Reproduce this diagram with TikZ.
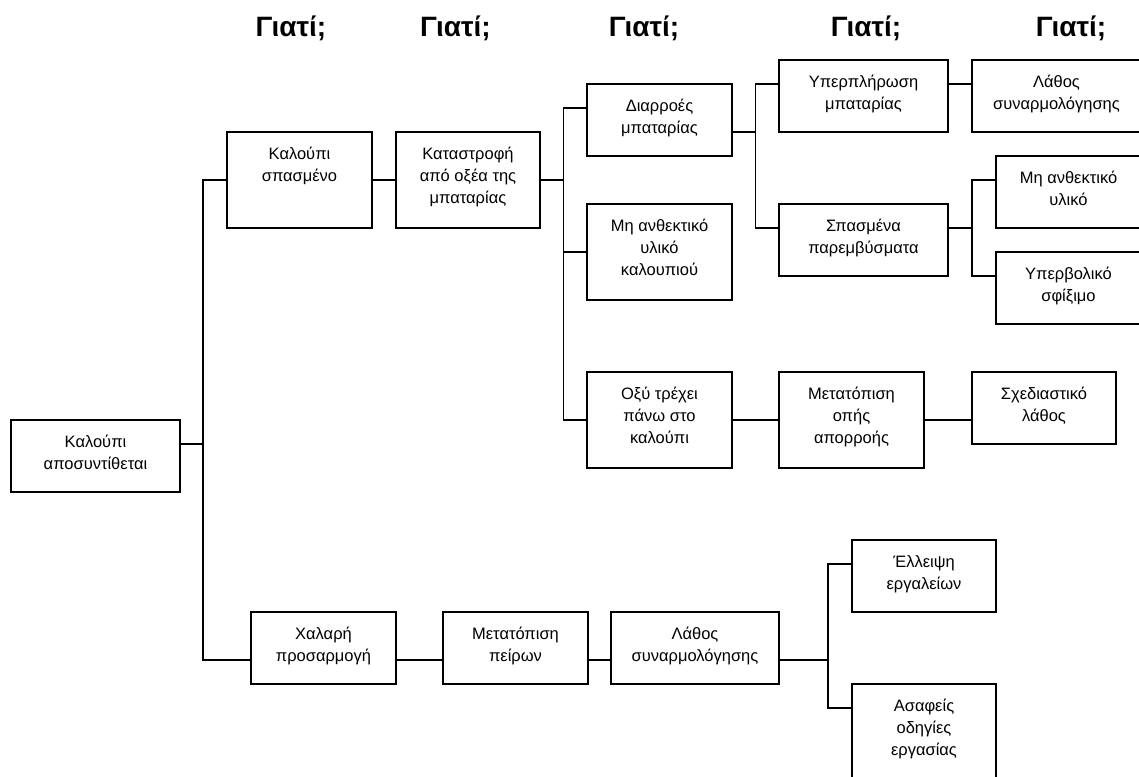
\documentclass[tikz,border=0pt]{standalone}
\usepackage{fontspec}
\setmainfont{Liberation Sans}
\usetikzlibrary{calc}

\tikzset{
  whybox/.style={draw, line width=1.6pt, inner sep=0pt, outer sep=0pt, anchor=north west},
  whyhead/.style={font=\bfseries\fontsize{28}{32}\selectfont, anchor=base, inner sep=0pt},
  link/.style={line width=1.6pt},
}

% box content: width, height, lines (set from the top of the box)
\newcommand{\bt}[3]{\parbox[b][#2][t]{#1}{\centering\rule{0pt}{27pt}#3\par}}
% entry/exit points of a box, #2 pt below its top edge
\newcommand{\ports}[2]{%
  \coordinate (#1-i) at ([yshift=-#2pt]#1.north west);
  \coordinate (#1-o) at ([yshift=-#2pt]#1.north east);}

\begin{document}
\begin{tikzpicture}[x=1pt, y=-1pt, font=\fontsize{16.5}{22.4}\selectfont]
\clip (0,0) rectangle (1139,776);

% column headings
\node[whyhead] (h1) at (291,36.5) {Γιατί;};
\node[whyhead] (h2) at (455.5,36.5) {Γιατί;};
\node[whyhead] (h3) at (644,36.5) {Γιατί;};
\node[whyhead] (h4) at (866,36.5) {Γιατί;};
\node[whyhead] (h5) at (1071,36.5) {Γιατί;};

% boxes
\node[whybox] (root) at (11,420)  {\bt{169pt}{72pt}{Καλούπι\\αποσυντίθεται}};
\node[whybox] (k1)   at (227,132) {\bt{145pt}{96pt}{Καλούπι\\σπασμένο}};
\node[whybox] (k2)   at (396,132) {\bt{144pt}{96pt}{Καταστροφή\\από οξέα της\\μπαταρίας}};
\node[whybox] (d1)   at (587,84)  {\bt{145pt}{72pt}{Διαρροές\\μπαταρίας}};
\node[whybox] (m1)   at (587,204) {\bt{145pt}{96pt}{Μη ανθεκτικό\\υλικό\\καλουπιού}};
\node[whybox] (o1)   at (587,372) {\bt{145pt}{96pt}{Οξύ τρέχει\\πάνω στο\\καλούπι}};
\node[whybox] (y1)   at (779,60)  {\bt{169pt}{72pt}{Υπερπλήρωση\\μπαταρίας}};
\node[whybox] (s1)   at (779,204) {\bt{169pt}{72pt}{Σπασμένα\\παρεμβύσματα}};
\node[whybox] (t1)   at (779,372) {\bt{145pt}{96pt}{Μετατόπιση\\οπής\\απορροής}};
\node[whybox] (l1)   at (972,60)  {\bt{169pt}{72pt}{Λάθος\\συναρμολόγησης}};
\node[whybox] (m2)   at (996,156) {\bt{145pt}{72pt}{Μη ανθεκτικό\\υλικό}};
\node[whybox] (u1)   at (996,252) {\bt{145pt}{72pt}{Υπερβολικό\\σφίξιμο}};
\node[whybox] (x1)   at (972,372) {\bt{144pt}{72pt}{Σχεδιαστικό\\λάθος}};
\node[whybox] (c1)   at (251,612) {\bt{145pt}{72pt}{Χαλαρή\\προσαρμογή}};
\node[whybox] (p1)   at (443,612) {\bt{145pt}{72pt}{Μετατόπιση\\πείρων}};
\node[whybox] (l2)   at (611,612) {\bt{168pt}{72pt}{Λάθος\\συναρμολόγησης}};
\node[whybox] (e1)   at (852,540) {\bt{144pt}{72pt}{Έλλειψη\\εργαλείων}};
\node[whybox] (a1)   at (852,684) {\bt{144pt}{96pt}{Ασαφείς\\οδηγίες\\εργασίας}};

% connection points
\ports{root}{24}
\ports{k1}{48}
\ports{k2}{48}
\coordinate (d1-i) at ([yshift=-24pt]d1.north west);
\coordinate (d1-o) at ([yshift=-48pt]d1.north east);
\ports{m1}{48}
\ports{o1}{48}
\ports{y1}{24}
\ports{s1}{24}
\ports{t1}{48}
\ports{l1}{24}
\ports{m2}{24}
\ports{u1}{24}
\ports{x1}{48}
\ports{c1}{48}
\ports{p1}{48}
\ports{l2}{48}
\ports{e1}{24}
\ports{a1}{24}

% vertical buses
\coordinate (bus0) at (203,0);
\coordinate (bus1) at (563.5,0);
\coordinate (bus2) at (755.5,0);
\coordinate (bus3) at (972,0);
\coordinate (bus4) at (828,0);

% connectors
\draw[link] (root-o) -| (bus0 |- k1-i) -- (k1-i);
\draw[link] (root-o) -| (bus0 |- c1-i) -- (c1-i);
\draw[link] (k1-o) -- (k2-i);
\draw[link] (k2-o) -| (bus1 |- d1-i) -- (d1-i);
\draw[link] (k2-o) -| (bus1 |- m1-i) -- (m1-i);
\draw[link] (k2-o) -| (bus1 |- o1-i) -- (o1-i);
\draw[link] (d1-o) -| (bus2 |- y1-i) -- (y1-i);
\draw[link] (d1-o) -| (bus2 |- s1-i) -- (s1-i);
\draw[link] (y1-o) -- (l1-i);
\draw[link] (s1-o) -| (bus3 |- m2-i) -- (m2-i);
\draw[link] (s1-o) -| (bus3 |- u1-i) -- (u1-i);
\draw[link] (o1-o) -- (t1-i);
\draw[link] (t1-o) -- (x1-i);
\draw[link] (c1-o) -- (p1-i);
\draw[link] (p1-o) -- (l2-i);
\draw[link] (l2-o) -| (bus4 |- e1-i) -- (e1-i);
\draw[link] (l2-o) -| (bus4 |- a1-i) -- (a1-i);
\end{tikzpicture}
\end{document}
